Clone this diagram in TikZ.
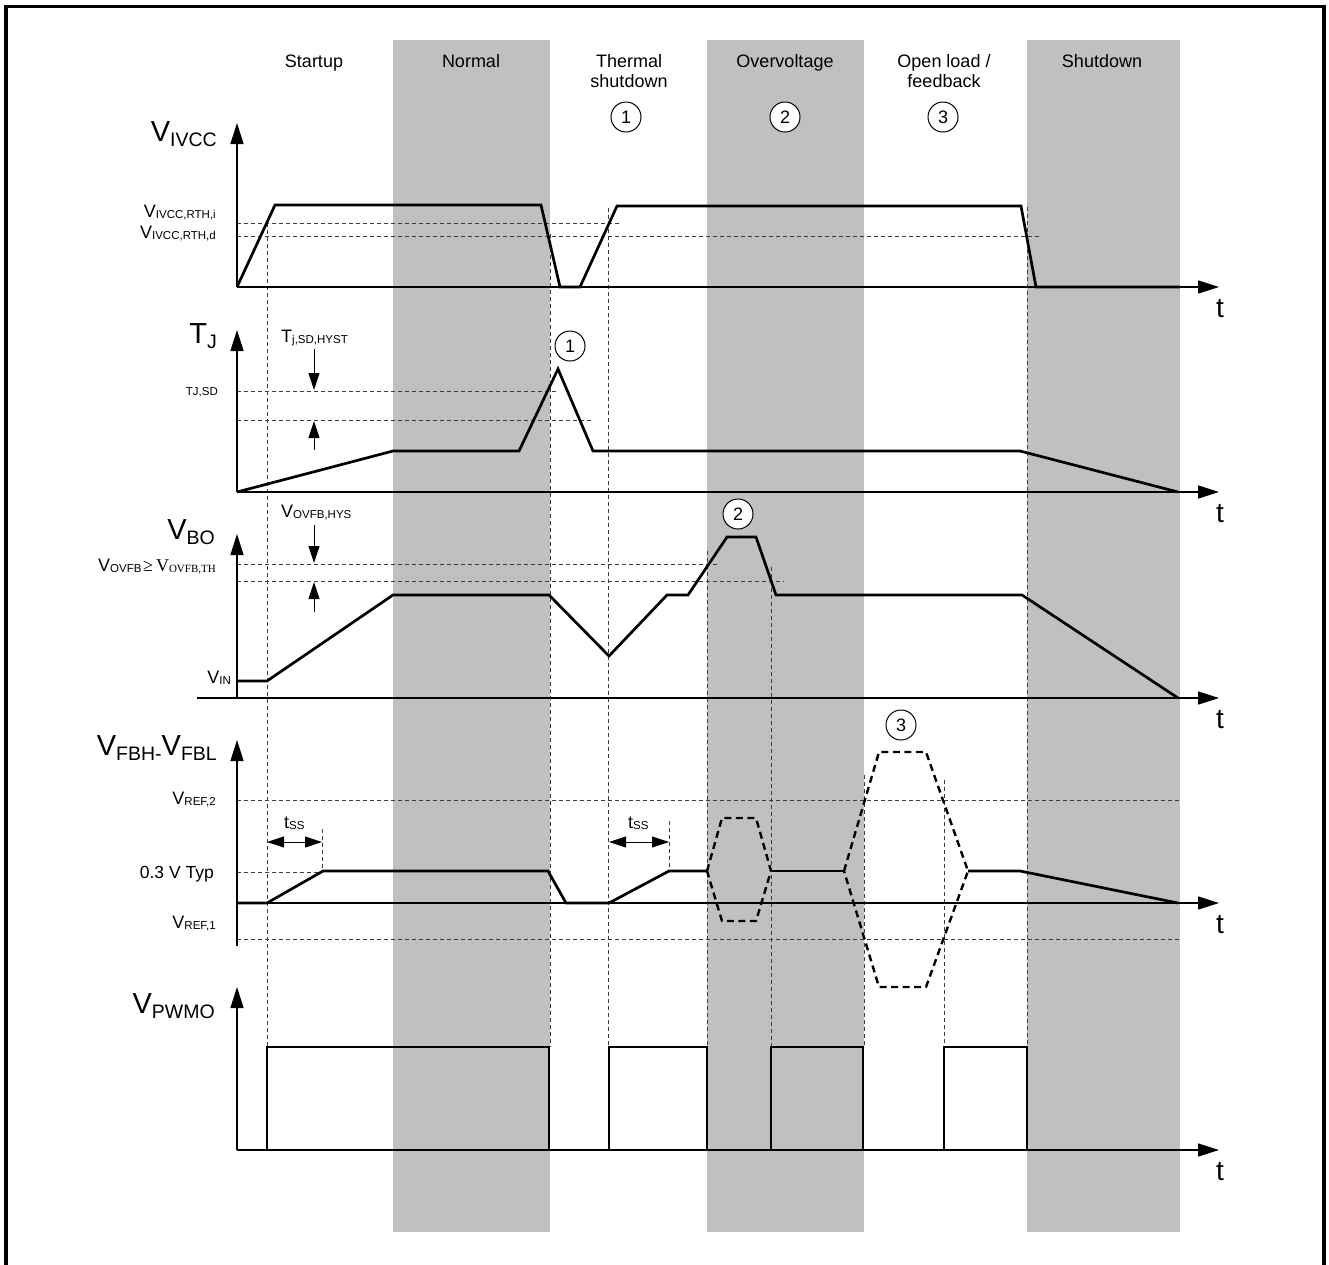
\documentclass[tikz,border=0pt]{standalone}
\usepackage{fontspec}
\usepackage{graphicx}
\setmainfont{Liberation Sans}
\newfontfamily\serifnt{Liberation Serif}
\usetikzlibrary{arrows.meta}
\definecolor{band}{RGB}{192,192,192}
\definecolor{dashcol}{RGB}{60,60,60}
\newcommand\fs[1]{\fontsize{#1}{#1}\selectfont}
\newcommand\Lg[1]{{\fs{29}#1}}
\newcommand\Ls[1]{\raisebox{-5pt}{\fs{19.5}#1}}
\newcommand\Sm[1]{{\fs{18}#1}}
\newcommand\Ss[1]{\raisebox{-1.5pt}{\fs{11.5}#1}}
\tikzset{
  sig/.style={line width=2.7pt, line join=miter},
  axisline/.style={line width=1.5pt, -{Triangle[length=21pt,width=13pt]}},
  thr/.style={line width=1pt, dashcol, dash pattern=on 4pt off 3pt},
  hexdash/.style={line width=2.4pt, dash pattern=on 7pt off 4.5pt, line join=miter},
  hyst/.style={line width=1pt, -{Triangle[length=17pt,width=11pt]}},
  numcirc/.style={circle, draw, fill=white, line width=1pt, minimum size=30pt, inner sep=0pt, font=\fs{18}},
  lbl/.style={inner sep=0pt, anchor=base east},
  lblw/.style={inner sep=0pt, anchor=base west},
  colhead/.style={inner sep=0pt, anchor=base, font=\fs{18}},
  tlbl/.style={inner sep=0pt, anchor=base west, font=\fs{28}},
}
\begin{document}
\begin{tikzpicture}[x=1pt,y=-1pt]
\path[use as bounding box] (0,0) rectangle (1329,1264);
\clip (0,0) rectangle (1329,1264);
\fill[white] (0,0) rectangle (1329,1264);
% outer frame
\draw[line width=3.5pt] (6,1300) -- (6,6.5) -- (1324,6.5) -- (1324,1300);
% bands
\fill[band] (393,40) rectangle (550,1232);
\fill[band] (707,40) rectangle (864,1232);
\fill[band] (1027,40) rectangle (1180,1232);
% column headings
\node[colhead] (hStart) at (314,67) {Startup};
\node[colhead] (hNorm) at (471,67) {Normal};
\node[colhead] (hTh1) at (629,67) {Thermal};
\node[colhead] (hTh2) at (629,87) {shutdown};
\node[colhead] (hOv) at (785,67) {Overvoltage};
\node[colhead] (hOl1) at (944,67) {Open load /};
\node[colhead] (hOl2) at (944,87) {feedback};
\node[colhead] (hSd) at (1102,67) {Shutdown};
\node[numcirc] (c1) at (626,117) {1};
\node[numcirc] (c2) at (785,117) {2};
\node[numcirc] (c3) at (943,117) {3};
% vertical dashed markers
\draw[thr] (267,223) -- (267,1047);
\draw[thr] (550,234) -- (550,1047);
\draw[thr] (608,208) -- (608,1047);
\draw[thr] (1027,207) -- (1027,1047);
\draw[thr] (707,551) -- (707,1047);
\draw[thr] (771,567) -- (771,1047);
\draw[thr] (864,775) -- (864,1047);
\draw[thr] (944,780) -- (944,1047);
\draw[thr] (322,829) -- (322,872);
\draw[thr] (669,821) -- (669,870);
% horizontal thresholds
\draw[thr] (237,223) -- (619,223);
\draw[thr] (237,236) -- (1039,236);
\draw[thr] (237,391) -- (558,391);
\draw[thr] (237,420) -- (591,420);
\draw[thr] (237,564) -- (717,564);
\draw[thr] (237,581) -- (784,581);
\draw[thr] (237,800) -- (1179,800);
\draw[thr] (237,872) -- (322,872);
\draw[thr] (237,939) -- (1179,939);
% axes
\draw[axisline] (237,287) -- (237,123);
\draw[axisline] (237,287) -- (1219,287);
\draw[axisline] (237,492) -- (237,330);
\draw[axisline] (237,492) -- (1219,492);
\draw[axisline] (237,698) -- (237,534);
\draw[axisline] (197,698) -- (1219,698);
\draw[axisline] (237,946) -- (237,740);
\draw[axisline] (237,903) -- (1219,903);
\draw[axisline] (237,1150) -- (237,987);
\draw[axisline] (237,1150) -- (1219,1150);
% t labels
\node[tlbl] (t1) at (1216,317) {t};
\node[tlbl] (t2) at (1216,522) {t};
\node[tlbl] (t3) at (1216,728) {t};
\node[tlbl] (t4) at (1216,933) {t};
\node[tlbl] (t5) at (1216,1180) {t};
% signals
\draw[sig] (237,287) -- (275,205) -- (541,205) -- (560,287) -- (580,287) -- (617,206) -- (1021,206) -- (1036,287) -- (1180,287);
\draw[sig] (237,492) -- (393,451) -- (519,451) -- (558,369) -- (593,451) -- (1020,451) -- (1178,492);
\draw[sig] (237,681) -- (267,681) -- (393,595) -- (549,595) -- (609,656) -- (667,595) -- (688,595) -- (727,537) -- (756,537) -- (776,595) -- (1022,595) -- (1178,698);
\draw[sig] (237,903) -- (267,903) -- (323,871) -- (548,871) -- (566,903) -- (609,903) -- (669,871) -- (707,871);
\draw[sig] (771,871) -- (844,871);
\draw[sig] (968,871) -- (1020,871) -- (1178,903);
\draw[hexdash] (707,871) -- (722,818) -- (756,818) -- (771,871) -- (756,921) -- (722,921) -- cycle;
\draw[hexdash] (844,871) -- (879,752) -- (926,752) -- (968,871) -- (926,987) -- (879,987) -- cycle;
\draw[sig] (237,1150) -- (267,1150) -- (267,1047) -- (549,1047) -- (549,1150) -- (609,1150) -- (609,1047) -- (707,1047) -- (707,1150) -- (771,1150) -- (771,1047) -- (863,1047) -- (863,1150) -- (944,1150) -- (944,1047) -- (1027,1047) -- (1027,1150) -- (1178,1150);
% event circles in plots
\node[numcirc] (p1) at (570,346) {1};
\node[numcirc] (p2) at (738,514) {2};
\node[numcirc] (p3) at (901,725) {3};
% hysteresis arrows
\draw[hyst] (314,349) -- (314,390);
\draw[hyst] (314,450) -- (314,421);
\draw[hyst] (314,525) -- (314,563);
\draw[hyst] (314,612) -- (314,582);
\draw[line width=1pt, {Triangle[length=17pt,width=11pt]}-{Triangle[length=17pt,width=11pt]}] (267,842) -- (322,842);
\draw[line width=1pt, {Triangle[length=17pt,width=11pt]}-{Triangle[length=17pt,width=11pt]}] (609,842) -- (669,842);
% axis labels
\node[lbl] (lIVCC) at (217,141) {\Lg{V}\Ls{IVCC}};
\node[lbl] (lTJ) at (217,343) {\Lg{T}\Ls{J}};
\node[lbl] (lBO) at (215,539) {\Lg{V}\Ls{BO}};
\node[lbl] (lFB) at (217,755) {\Lg{V}\Ls{FBH-}\Lg{V}\Ls{FBL}};
\node[lbl] (lPW) at (215,1013) {\Lg{V}\Ls{PWMO}};
% level labels
\node[lbl] (lRi) at (216,217) {\Sm{V}\Ss{IVCC,RTH,i}};
\node[lbl] (lRd) at (216,238) {\Sm{V}\Ss{IVCC,RTH,d}};
\node[lbl, font=\fs{11.5}] (lTSD) at (218,395) {TJ,SD};
\node[lbl] (lOV) at (216,571) {\Sm{V}\Ss{OVFB}\,{\serifnt\fs{18}≥\,V}\raisebox{-1.5pt}{\serifnt\fs{11}OVFB,TH}};
\node[lbl] (lIN) at (231,683) {\Sm{V}\Ss{IN}};
\node[lbl] (lR2) at (216,804) {\Sm{V}\Ss{REF,2}};
\node[lbl, font=\fs{17.5}] (l03) at (214,878) {0.3 V Typ};
\node[lbl] (lR1) at (216,928) {\Sm{V}\Ss{REF,1}};
\node[lblw] (lHy1) at (281,342) {\Sm{T}\Ss{j,SD,HYST}};
\node[lblw] (lHy2) at (281,517) {\Sm{V}\Ss{OVFB,HYS}};
\node[lblw] (lss1) at (284,828) {\Sm{t}\Ss{SS}};
\node[lblw] (lss2) at (628,828) {\Sm{t}\Ss{SS}};
\end{tikzpicture}
\end{document}
